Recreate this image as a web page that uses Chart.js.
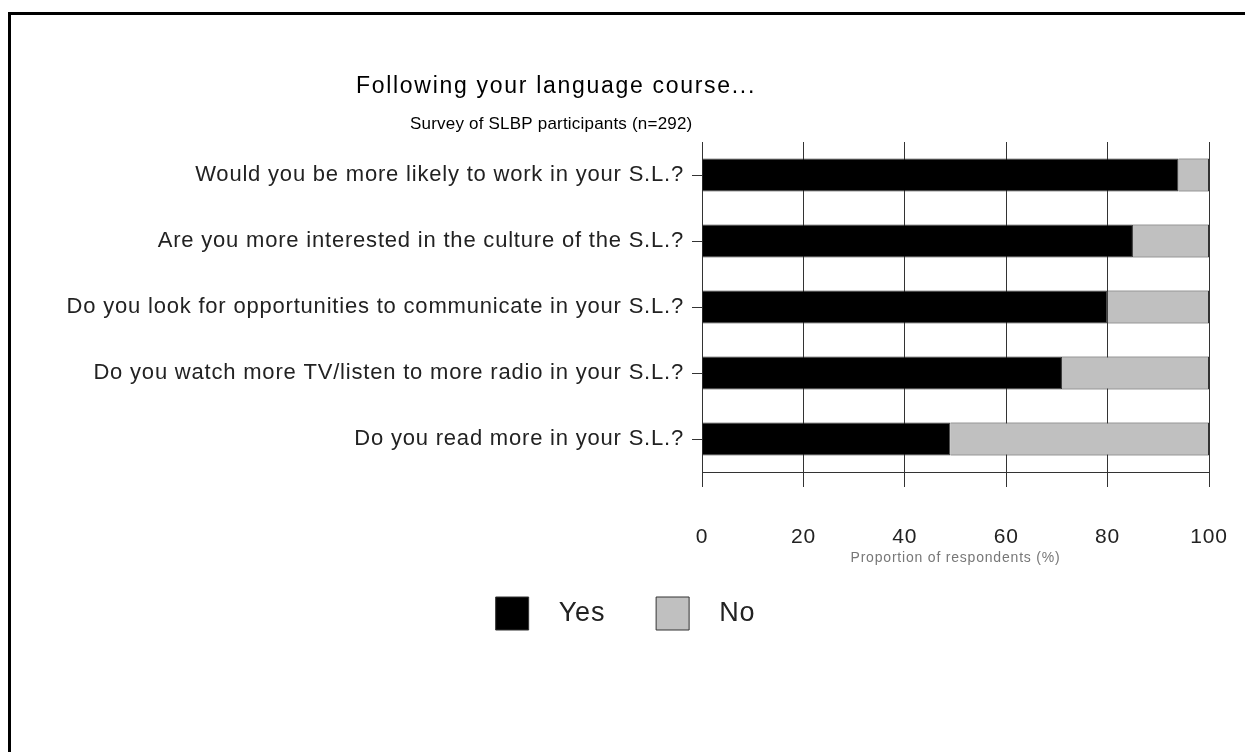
<!DOCTYPE html>
<html>
<head>
<meta charset="utf-8">
<script src="https://cdn.jsdelivr.net/npm/chart.js@4/dist/chart.umd.min.js"></script>
<style>
  html, body { margin: 0; padding: 0; background: #fff; }
  #wrap { position: relative; width: 1245px; height: 752px; overflow: hidden; }
  #frame {
    position: absolute; left: 8px; top: 12px; right: -20px; bottom: -20px;
    border-top: 3px solid #000; border-left: 3px solid #000;
    pointer-events: none;
  }
</style>
</head>
<body>
<div id="wrap">
  <canvas id="surveyChart" width="1245" height="752"></canvas>
  <div id="frame"></div>
</div>
<script>
    const questions = [
        'Would you be more likely to work in your S.L.?',
        'Are you more interested in the culture of the S.L.?',
        'Do you look for opportunities to communicate in your S.L.?',
        'Do you watch more TV/listen to more radio in your S.L.?',
        'Do you read more in your S.L.?'
    ];
    const yesShare = [94, 85, 80, 71, 49];
    const noShare = [6, 15, 20, 29, 51];
    const xTicks = [0, 20, 40, 60, 80, 100];

    const titleText = 'Following your language course...';
    const subtitleText = 'Survey of SLBP participants (n=292)';
    const fontFamily = '"Liberation Sans", Arial, sans-serif';
    const padLeft = 42;

    // espaciado de letras para imitar la tipografia original
    const spacingPlugin = {
        id: 'spacing',
        beforeUpdate(chart) { chart.ctx.letterSpacing = '0.8px'; },
        beforeDraw(chart) { chart.ctx.letterSpacing = '0.8px'; }
    };

    // titulos dibujados a mano (no estan centrados en el canvas)
    const headingPlugin = {
        id: 'heading',
        afterDraw(chart) {
            const ctx = chart.ctx;
            ctx.save();
            ctx.fillStyle = '#000';
            ctx.textBaseline = 'middle';
            ctx.textAlign = 'left';
            ctx.letterSpacing = '1.7px';
            ctx.font = '23px ' + fontFamily;
            ctx.fillText(titleText, 356, 87);
            ctx.letterSpacing = '0.2px';
            ctx.font = '17px ' + fontFamily;
            ctx.fillText(subtitleText, 410, 124);
            ctx.restore();
        }
    };

    const ctx = document.getElementById('surveyChart').getContext('2d');
    const chart = new Chart(ctx, {
        type: 'bar',
        data: {
            labels: questions,
            datasets: [
                {
                    label: 'Yes',
                    data: yesShare,
                    backgroundColor: '#000000',
                    borderColor: '#333333',
                    borderWidth: 1,
                    barPercentage: 1,
                    categoryPercentage: 0.5
                },
                {
                    label: 'No',
                    data: noShare,
                    backgroundColor: '#c0c0c0',
                    borderColor: '#333333',
                    borderWidth: 1,
                    barPercentage: 1,
                    categoryPercentage: 0.5
                }
            ]
        },
        options: {
            indexAxis: 'y',
            responsive: false,
            animation: false,
            layout: { padding: { top: 142, right: 36, bottom: 112, left: padLeft } },
            scales: {
                x: {
                    stacked: true,
                    min: 0,
                    max: 100,
                    afterBuildTicks: (scale) => { scale.ticks = xTicks.map(v => ({ value: v })); },
                    afterFit: (scale) => { scale.height = 99; },
                    grid: { color: '#333', lineWidth: 1, tickLength: 15 },
                    border: { color: '#333', width: 1 },
                    ticks: {
                        color: '#222',
                        padding: 14,
                        maxRotation: 0,
                        // lineHeight grande para bajar las etiquetas
                        font: { family: fontFamily, size: 21, lineHeight: '72px' }
                    },
                    title: {
                        display: true,
                        text: 'Proportion of respondents (%)',
                        color: '#777',
                        padding: { top: 0 },
                        font: { family: fontFamily, size: 14 }
                    }
                },
                y: {
                    stacked: true,
                    afterFit: (scale) => { scale.width = 702 - padLeft; },
                    grid: { drawOnChartArea: false, offset: false, color: '#333', tickLength: 10 },
                    border: { color: '#333', width: 1 },
                    ticks: {
                        color: '#222',
                        padding: 8,
                        font: { family: fontFamily, size: 22 }
                    }
                }
            },
            plugins: {
                tooltip: { enabled: false },
                legend: {
                    position: 'bottom',
                    labels: {
                        boxWidth: 33,
                        boxHeight: 33,
                        padding: 26,
                        color: '#222',
                        font: { family: fontFamily, size: 27 },
                        generateLabels: (c) => {
                            const items = Chart.defaults.plugins.legend.labels.generateLabels(c);
                            items.forEach((it, i) => {
                                it.text = '  ' + it.text + (i === 0 ? '   ' : '');
                                it.lineWidth = 1;
                                it.strokeStyle = '#333';
                            });
                            return items;
                        }
                    }
                }
            }
        },
        plugins: [spacingPlugin, headingPlugin]
    });
</script>
</body>
</html>
